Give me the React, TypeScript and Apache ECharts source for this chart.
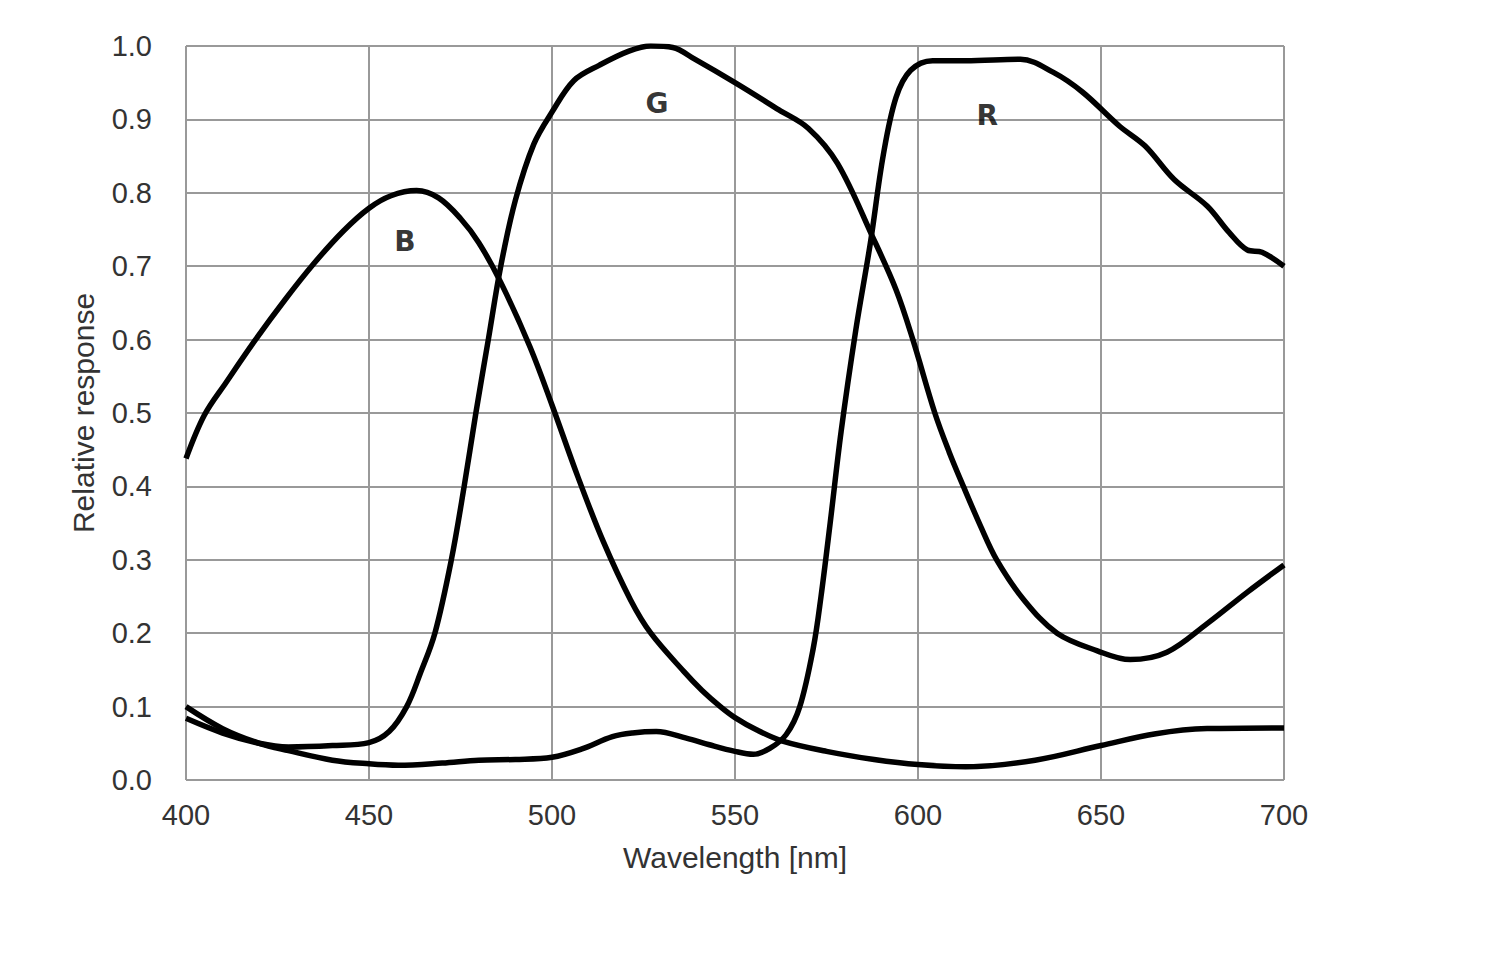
import React, { useEffect, useRef } from "react";
import * as echarts from "echarts";

const bWavelengths = [400, 405, 411, 419, 427, 435, 443, 450, 456, 463, 469, 475, 480, 486, 494, 500, 507, 514, 521.5, 527, 536, 541, 546, 550, 556, 563, 575, 588, 600, 613, 632, 650, 665, 679, 700];
const bValues = [0.438, 0.497, 0.542, 0.6, 0.654, 0.704, 0.748, 0.779, 0.796, 0.803, 0.793, 0.765, 0.732, 0.678, 0.59, 0.511, 0.414, 0.325, 0.245, 0.2, 0.148, 0.122, 0.1, 0.085, 0.068, 0.053, 0.039, 0.028, 0.021, 0.018, 0.027, 0.047, 0.063, 0.07, 0.071];

const gWavelengths = [400, 410, 420, 428, 440, 450, 455.5, 460.3, 464, 468, 472.5, 476, 479.2, 482.6, 486, 490, 495, 500, 506, 513, 521, 527, 533, 539, 550, 562, 570, 578, 587.5, 594, 598.6, 604.6, 608.5, 612.4, 617, 621.5, 629, 638, 649, 658, 668, 679, 690, 700];
const gValues = [0.084, 0.064, 0.05, 0.045, 0.047, 0.051, 0.066, 0.1, 0.145, 0.2, 0.3, 0.4, 0.5, 0.6, 0.7, 0.79, 0.866, 0.91, 0.953, 0.974, 0.993, 1.0, 0.998, 0.982, 0.95, 0.913, 0.888, 0.84, 0.741, 0.668, 0.6, 0.5, 0.447, 0.4, 0.347, 0.3, 0.245, 0.2, 0.176, 0.164, 0.174, 0.213, 0.256, 0.293];

const rWavelengths = [400, 410, 420, 428, 440, 450, 458, 470, 480, 490, 500, 508, 516.5, 522, 528.5, 536.7, 543, 550, 555, 559.5, 564, 567.7, 571.4, 573.5, 576, 579, 583, 587, 590.5, 594, 598, 604, 613, 628, 637, 645, 655, 662, 670, 679, 685, 690, 694, 700];
const rValues = [0.1, 0.07, 0.05, 0.04, 0.027, 0.022, 0.02, 0.023, 0.027, 0.028, 0.031, 0.042, 0.059, 0.064, 0.066, 0.057, 0.048, 0.039, 0.035, 0.043, 0.062, 0.1, 0.18, 0.25, 0.35, 0.475, 0.613, 0.732, 0.851, 0.93, 0.967, 0.98, 0.98, 0.982, 0.964, 0.937, 0.891, 0.864, 0.818, 0.782, 0.746, 0.722, 0.719, 0.7];

const curveNames = ["B", "G", "R"];
const labelX = [459.8, 528.7, 618.9];
const labelY = [0.733, 0.922, 0.905];

const xTicks = [400, 450, 500, 550, 600, 650, 700];
const yTicks = [0, 0.1, 0.2, 0.3, 0.4, 0.5, 0.6, 0.7, 0.8, 0.9, 1.0];

const FONT = "'Liberation Sans', Arial, sans-serif";

function zip(xs: number[], ys: number[]) {
  return xs.map((x, i) => [x, ys[i]]);
}

export default function App() {
  const ref = useRef<HTMLDivElement>(null);
  useEffect(() => {
    if (!ref.current) return;
    const chart = echarts.init(ref.current, undefined, { renderer: "svg" });
    const curves = [zip(bWavelengths, bValues), zip(gWavelengths, gValues), zip(rWavelengths, rValues)];
    const lineSeries = curves.map((d, i) => ({
      name: curveNames[i],
      type: "line",
      data: d,
      smooth: 0.35,
      showSymbol: false,
      lineStyle: { color: "#000", width: 5.5 },
      z: 3,
    }));
    chart.setOption({
      animation: false,
      backgroundColor: "#fff",
      grid: { left: 186, right: 216, top: 46, bottom: 173 },
      xAxis: {
        type: "value",
        min: xTicks[0],
        max: xTicks[xTicks.length - 1],
        interval: 50,
        name: "Wavelength [nm]",
        nameLocation: "middle",
        nameGap: 62,
        nameTextStyle: { fontFamily: FONT, fontSize: 30, color: "#333" },
        axisLine: { show: false },
        axisTick: { show: false },
        axisLabel: { fontFamily: FONT, fontSize: 29, color: "#333", margin: 20 },
        splitLine: { show: true, lineStyle: { color: "#999", width: 2 } },
      },
      yAxis: {
        type: "value",
        min: yTicks[0],
        max: yTicks[yTicks.length - 1],
        interval: 0.1,
        name: "Relative response",
        nameLocation: "middle",
        nameGap: 88,
        nameTextStyle: { fontFamily: FONT, fontSize: 30, color: "#333" },
        axisLine: { show: false },
        axisTick: { show: false },
        axisLabel: {
          fontFamily: FONT,
          fontSize: 29,
          color: "#333",
          margin: 34,
          formatter: (v: number) => v.toFixed(1),
        },
        splitLine: { show: true, lineStyle: { color: "#999", width: 2 } },
      },
      series: [
        ...lineSeries,
        {
          type: "scatter",
          symbolSize: 0,
          data: curveNames.map((n, i) => ({ value: [labelX[i], labelY[i]], name: n })),
          label: {
            show: true,
            position: "inside",
            formatter: (p: any) => p.name,
            fontFamily: "'DejaVu Sans', sans-serif",
            fontWeight: "bold",
            fontSize: 28,
            color: "#000",
          },
          z: 4,
        },
      ],
    });
    return () => chart.dispose();
  }, []);
  return (
    <div
      ref={ref}
      style={{ position: "fixed", left: 0, top: 0, width: 1500, height: 953, background: "#fff" }}
    />
  );
}
